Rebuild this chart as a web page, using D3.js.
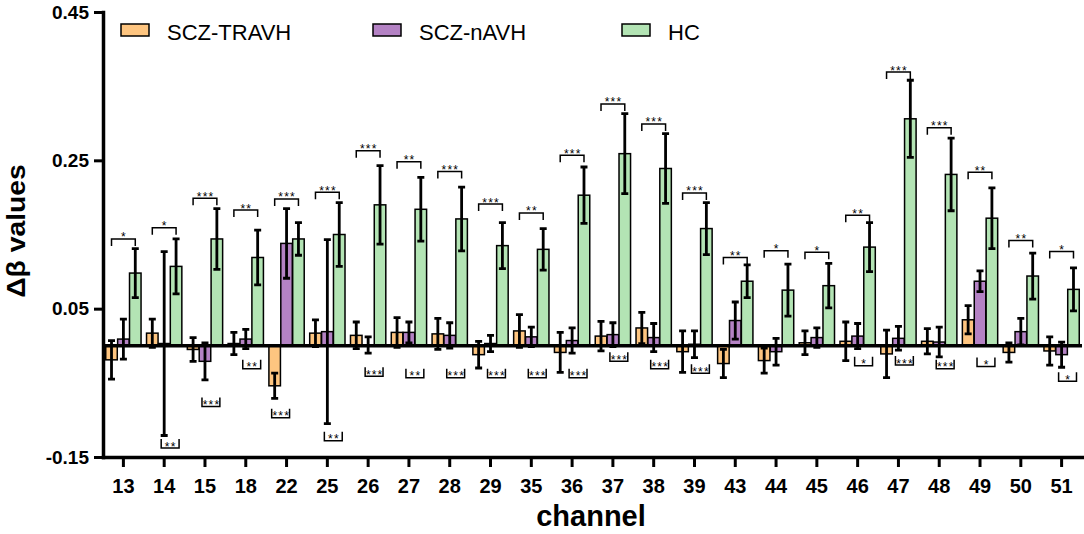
<!DOCTYPE html>
<html>
<head>
<meta charset="utf-8">
<script src="https://cdn.jsdelivr.net/npm/d3@7"></script>
<style>
  body { margin: 0; background: #fff; }
  svg { display: block; font-family: "Liberation Sans", Arial, sans-serif; }
</style>
</head>
<body>
<script>
// channels on the x axis
const channels = [13, 14, 15, 18, 22, 25, 26, 27, 28, 29, 35, 36, 37, 38, 39, 43, 44, 45, 46, 47, 48, 49, 50, 51];

// group means and error bars
const travh = [-0.019, 0.017, -0.005, 0.003, -0.054, 0.017, 0.014, 0.018, 0.016, -0.012, 0.020, -0.009, 0.013, 0.024, -0.008, -0.024, -0.020, 0.004, 0.006, -0.011, 0.006, 0.035, -0.009, -0.007];
const travhErr = [0.026, 0.019, 0.016, 0.015, 0.017, 0.018, 0.018, 0.020, 0.021, 0.018, 0.022, 0.027, 0.020, 0.021, 0.028, 0.019, 0.017, 0.016, 0.026, 0.032, 0.017, 0.019, 0.013, 0.019];
const navh = [0.009, 0.003, -0.021, 0.009, 0.138, 0.019, 0.001, 0.018, 0.014, 0.003, 0.012, 0.007, 0.015, 0.011, 0.002, 0.034, -0.008, 0.011, 0.013, 0.010, 0.005, 0.087, 0.019, -0.012];
const navhErr = [0.027, 0.124, 0.025, 0.013, 0.047, 0.124, 0.011, 0.014, 0.017, 0.011, 0.013, 0.017, 0.016, 0.019, 0.018, 0.025, 0.018, 0.013, 0.017, 0.016, 0.020, 0.014, 0.018, 0.017];
const hc = [0.098, 0.107, 0.144, 0.119, 0.144, 0.150, 0.190, 0.184, 0.171, 0.135, 0.130, 0.203, 0.259, 0.239, 0.158, 0.087, 0.075, 0.081, 0.133, 0.306, 0.231, 0.172, 0.094, 0.076];
const hcErr = [0.033, 0.037, 0.041, 0.037, 0.022, 0.043, 0.053, 0.043, 0.043, 0.031, 0.028, 0.038, 0.054, 0.047, 0.035, 0.022, 0.035, 0.030, 0.033, 0.052, 0.049, 0.041, 0.031, 0.029];

// significance marks: above = SCZ-TRAVH vs HC, below = second comparison
const sigAbove = ["*", "*", "***", "**", "***", "***", "***", "**", "***", "***", "**", "***", "***", "***", "***", "**", "*", "*", "**", "***", "***", "**", "**", "*"];
const aboveLevel = [0.144, 0.159, 0.199, 0.183, 0.198, 0.207, 0.263, 0.248, 0.235, 0.191, 0.179, 0.257, 0.326, 0.299, 0.206, 0.119, 0.128, 0.126, 0.176, 0.369, 0.294, 0.234, 0.142, 0.127];
const sigBelow = ["", "**", "***", "**", "***", "**", "***", "**", "***", "***", "***", "***", "***", "***", "***", "", "", "", "*", "***", "***", "*", "", "*"];
const belowLevel = [null, -0.138, -0.082, -0.031, -0.097, -0.128, -0.041, -0.043, -0.043, -0.043, -0.043, -0.043, -0.021, -0.031, -0.037, null, null, null, -0.027, -0.026, -0.031, -0.028, null, -0.048];
// which two groups the lower bracket joins
const belowFrom = ["nAVH", "nAVH", "nAVH", "nAVH", "TRAVH", "nAVH", "nAVH", "nAVH", "nAVH", "nAVH", "nAVH", "nAVH", "nAVH", "nAVH", "nAVH", "nAVH", "nAVH", "nAVH", "nAVH", "nAVH", "nAVH", "nAVH", "nAVH", "nAVH"];
const belowTo = ["HC", "HC", "HC", "HC", "nAVH", "HC", "HC", "HC", "HC", "HC", "HC", "HC", "HC", "HC", "HC", "HC", "HC", "HC", "HC", "HC", "HC", "HC", "HC", "HC"];

const seriesKeys = ["TRAVH", "nAVH", "HC"];
const seriesNames = ["SCZ-TRAVH", "SCZ-nAVH", "HC"];
const yTicks = [-0.15, 0.05, 0.25, 0.45];

const colors = { TRAVH: "#fec580", nAVH: "#b482c4", HC: "#b3e4b4" };

const width = 1084;
const height = 534;
const plot = { left: 103, right: 1082, top: 12, bottom: 457 };

const svg = d3.select("body").append("svg").attr("width", width).attr("height", height);

// rows per channel
const rows = channels.map((c, i) => ({
  channel: c,
  TRAVH: { v: travh[i], e: travhErr[i] },
  nAVH: { v: navh[i], e: navhErr[i] },
  HC: { v: hc[i], e: hcErr[i] },
  above: sigAbove[i],
  aboveLevel: aboveLevel[i],
  below: sigBelow[i],
  belowLevel: belowLevel[i],
  belowFrom: belowFrom[i],
  belowTo: belowTo[i],
}));

const pIn = 0.117;
const x0 = d3.scaleBand().domain(channels).range([plot.left, plot.right]).paddingInner(pIn).paddingOuter(pIn / 2);
const x1 = d3.scaleBand().domain(seriesKeys).range([0, x0.bandwidth()]).padding(0.03);
const y = d3.scaleLinear().domain([-0.15, 0.45]).range([plot.bottom, plot.top]);

const cx = (d, k) => x0(d.channel) + x1(k) + x1.bandwidth() / 2;

// bars
const group = svg.selectAll(".grp").data(rows).enter().append("g").attr("class", "grp");

group.selectAll("rect")
  .data((d) => seriesKeys.map((k) => ({ d: d, k: k })))
  .enter()
  .append("rect")
  .attr("x", (o) => x0(o.d.channel) + x1(o.k))
  .attr("width", x1.bandwidth())
  .attr("y", (o) => y(Math.max(0, o.d[o.k].v)))
  .attr("height", (o) => Math.abs(y(o.d[o.k].v) - y(0)))
  .attr("fill", (o) => colors[o.k])
  .attr("stroke", "#000")
  .attr("stroke-width", 1.5);

// zero line
svg.append("line")
  .attr("x1", plot.left).attr("x2", plot.right)
  .attr("y1", y(0)).attr("y2", y(0))
  .attr("stroke", "#000").attr("stroke-width", 3.5);

// error bars
const capW = 7;
group.selectAll(".err")
  .data((d) => seriesKeys.map((k) => ({ d: d, k: k })))
  .enter()
  .append("path")
  .attr("class", "err")
  .attr("fill", "none")
  .attr("stroke", "#000")
  .attr("stroke-width", 2.8)
  .attr("d", (o) => {
    const x = cx(o.d, o.k);
    const t = y(o.d[o.k].v + o.d[o.k].e);
    const b = y(o.d[o.k].v - o.d[o.k].e);
    return `M${x},${t}V${b}M${x - capW / 2},${t}H${x + capW / 2}M${x - capW / 2},${b}H${x + capW / 2}`;
  });

// significance brackets, upper
group.append("path")
  .attr("fill", "none")
  .attr("stroke", "#000")
  .attr("stroke-width", 1.5)
  .attr("d", (d) => {
    const a = cx(d, "TRAVH");
    const b = cx(d, "HC");
    const l = y(d.aboveLevel);
    return `M${a},${l + 7}V${l}H${b}V${l + 7}`;
  });

group.append("text")
  .attr("x", (d) => (cx(d, "TRAVH") + cx(d, "HC")) / 2 + 0.6)
  .attr("y", (d) => y(d.aboveLevel) + 2.5)
  .attr("text-anchor", "middle")
  .attr("font-size", 12)
  .attr("letter-spacing", 1.2)
  .text((d) => d.above);

// significance brackets, lower
const lower = group.filter((d) => d.below !== "");
lower.append("path")
  .attr("fill", "none")
  .attr("stroke", "#000")
  .attr("stroke-width", 1.5)
  .attr("d", (d) => {
    const a = cx(d, d.belowFrom) - 3;
    const b = cx(d, d.belowTo) + 3;
    const l = y(d.belowLevel);
    return `M${a},${l - 9}V${l}H${b}V${l - 9}`;
  });

lower.append("text")
  .attr("x", (d) => (cx(d, d.belowFrom) + cx(d, d.belowTo)) / 2 + 0.6)
  .attr("y", (d) => y(d.belowLevel) + 2.5)
  .attr("text-anchor", "middle")
  .attr("font-size", 12)
  .attr("letter-spacing", 1.2)
  .text((d) => d.below);

// axes
const yAxis = svg.append("g")
  .attr("transform", `translate(${plot.left},0)`)
  .call(d3.axisLeft(y).tickValues(yTicks).tickFormat((d) => d.toFixed(2)).tickSize(9).tickSizeOuter(0).tickPadding(5));

const xAxis = svg.append("g")
  .attr("transform", `translate(0,${plot.bottom})`)
  .call(d3.axisBottom(x0).tickSize(10).tickSizeOuter(0).tickPadding(12));

[yAxis, xAxis].forEach((ax) => {
  ax.select(".domain").attr("stroke-width", 3.5).attr("stroke-linecap", "square");
  ax.selectAll(".tick line").attr("stroke-width", 3);
  ax.selectAll(".tick text").attr("fill", "#000").attr("font-weight", "bold").attr("font-family", "Liberation Sans, Arial, sans-serif");
});
yAxis.selectAll(".tick text").attr("font-size", 19);
xAxis.selectAll(".tick text").attr("font-size", 20);

// axis titles
svg.append("text")
  .attr("transform", "translate(25,231) rotate(-90) scale(1.09,1)")
  .attr("text-anchor", "middle")
  .attr("font-size", 26)
  .attr("font-weight", "bold")
  .text("Δβ values");

svg.append("text")
  .attr("x", 591)
  .attr("y", 526)
  .attr("text-anchor", "middle")
  .attr("font-size", 29)
  .attr("font-weight", "bold")
  .text("channel");

// legend
const legendX = [121, 373, 622];
const legend = svg.selectAll(".legend")
  .data(seriesKeys)
  .enter()
  .append("g")
  .attr("class", "legend")
  .attr("transform", (k, i) => `translate(${legendX[i]},24)`);

legend.append("rect")
  .attr("width", 28)
  .attr("height", 12)
  .attr("fill", (k) => colors[k])
  .attr("stroke", "#000")
  .attr("stroke-width", 1.5);

legend.append("text")
  .attr("x", 46)
  .attr("y", 16)
  .attr("font-size", 22)
  .text((k, i) => seriesNames[i]);
</script>
</body>
</html>
